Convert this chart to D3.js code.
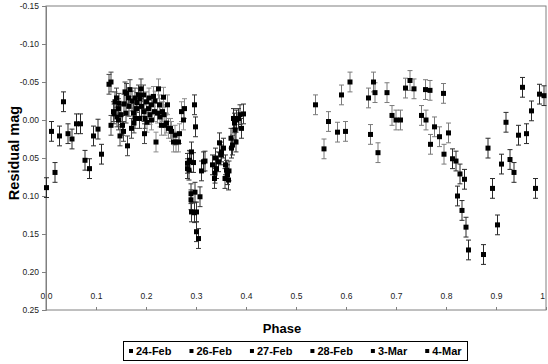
<!DOCTYPE html>
<html>
<head>
<meta charset="utf-8">
<script src="https://cdn.jsdelivr.net/npm/d3@7"></script>
<style>
  html, body { margin: 0; padding: 0; background: #fff; }
  svg { display: block; font-family: "Liberation Sans", Arial, sans-serif; }
</style>
</head>
<body>
<svg id="chart" width="548" height="364"></svg>
<script>
// Residual light-curve data, one pair of arrays per observing night
const seriesNames = ["24-Feb", "26-Feb", "27-Feb", "28-Feb", "3-Mar", "4-Mar"];

const feb24Phase = [0.001, 0.011, 0.018, 0.027, 0.035, 0.044, 0.052, 0.061, 0.069, 0.078, 0.087, 0.095, 0.104, 0.111];
const feb24Mag   = [0.089, 0.015, 0.069, 0.021, -0.024, 0.018, 0.025, 0.005, 0.005, 0.053, 0.064, 0.021, 0.012, 0.045];

const feb26Phase = [0.126, 0.130, 0.130, 0.135, 0.136, 0.138, 0.141, 0.142, 0.145, 0.145, 0.146, 0.148, 0.150, 0.153, 0.155, 0.156, 0.158, 0.160, 0.161, 0.163, 0.165, 0.166, 0.168, 0.171, 0.172, 0.175, 0.176, 0.178, 0.178, 0.181, 0.182, 0.185, 0.187, 0.188, 0.190, 0.191, 0.195, 0.196, 0.197, 0.198];
const feb26Mag   = [-0.047, -0.050, 0.007, -0.011, -0.008, -0.024, -0.029, -0.004, -0.015, 0.000, -0.022, 0.021, -0.007, 0.007, 0.015, -0.021, -0.037, -0.009, -0.035, 0.034, -0.029, -0.018, -0.040, 0.011, -0.025, -0.009, 0.004, -0.029, -0.002, -0.015, -0.023, -0.033, -0.002, -0.028, -0.041, -0.018, -0.033, -0.011, 0.018, -0.002];

const feb27Phase = [0.201, 0.202, 0.205, 0.206, 0.208, 0.211, 0.211, 0.215, 0.217, 0.218, 0.220, 0.223, 0.225, 0.227, 0.228, 0.231, 0.233, 0.235, 0.236, 0.238, 0.241, 0.243, 0.245, 0.249, 0.251, 0.255, 0.258, 0.260, 0.265, 0.267, 0.271, 0.275, 0.277];
const feb27Mag   = [-0.024, 0.003, -0.015, -0.029, -0.007, 0.000, -0.020, -0.031, -0.011, -0.025, 0.029, -0.009, -0.041, -0.020, -0.004, 0.007, -0.011, -0.030, -0.007, 0.007, 0.004, -0.020, 0.011, 0.011, 0.015, 0.029, 0.020, 0.029, 0.029, 0.018, -0.011, 0.000, -0.015];

const feb28Phase = [0.283, 0.283, 0.286, 0.287, 0.288, 0.290, 0.290, 0.291, 0.291, 0.295, 0.297, 0.297, 0.298, 0.299, 0.301, 0.301, 0.305, 0.308, 0.311, 0.315, 0.318, 0.333, 0.337, 0.338, 0.339, 0.341, 0.345, 0.347, 0.350, 0.351, 0.355, 0.358, 0.359, 0.361, 0.363, 0.365, 0.366, 0.370, 0.371, 0.373, 0.375, 0.377, 0.378, 0.380, 0.381, 0.385, 0.388, 0.391, 0.395];
const feb28Mag   = [0.057, 0.064, 0.066, 0.053, 0.055, 0.097, 0.105, 0.042, 0.121, 0.056, -0.020, 0.122, 0.095, 0.009, 0.121, 0.147, 0.156, 0.101, 0.067, 0.055, 0.054, 0.059, 0.077, 0.070, 0.050, 0.064, 0.055, 0.030, 0.046, 0.042, 0.037, 0.077, 0.059, 0.066, 0.072, 0.079, 0.067, 0.024, 0.037, 0.033, -0.002, 0.004, 0.013, 0.029, 0.000, -0.002, -0.007, 0.011, -0.008];

const mar3Phase = [0.539, 0.556, 0.565, 0.583, 0.591, 0.599, 0.608, 0.645, 0.649, 0.655, 0.658, 0.664, 0.682, 0.692, 0.700, 0.709, 0.719, 0.728, 0.736, 0.751, 0.759, 0.760, 0.768, 0.769, 0.777, 0.787, 0.795, 0.796, 0.805];
const mar3Mag   = [-0.020, 0.038, 0.002, 0.016, -0.033, 0.015, -0.050, -0.029, 0.019, -0.050, -0.036, 0.043, -0.036, -0.006, 0.000, 0.000, -0.042, -0.052, -0.041, -0.006, -0.040, 0.000, -0.039, 0.032, 0.009, 0.022, -0.035, 0.045, 0.017];

const mar4Phase = [0.813, 0.820, 0.823, 0.828, 0.832, 0.837, 0.840, 0.845, 0.875, 0.884, 0.893, 0.903, 0.911, 0.920, 0.928, 0.936, 0.945, 0.953, 0.961, 0.971, 0.979, 0.987, 0.996];
const mar4Mag   = [0.051, 0.054, 0.100, 0.071, 0.119, 0.078, 0.141, 0.171, 0.177, 0.037, 0.090, 0.138, 0.058, 0.003, 0.052, 0.069, 0.020, -0.043, 0.018, -0.012, 0.090, -0.034, -0.032];

// one-sigma uncertainty for each night
const nightErr = [0.013, 0.013, 0.013, 0.013, 0.013, 0.013];

const yTicks = [-0.15, -0.10, -0.05, 0.00, 0.05, 0.10, 0.15, 0.20, 0.25];
const yTickLabels = ["-0.15", "-0.10", "-0.05", "0.00", "0.05", "0.10", "0.15", "0.20", "0.25"];
const xTicks = [0, 0.1, 0.2, 0.3, 0.4, 0.5, 0.6, 0.7, 0.8, 0.9, 1];
const xTickLabels = ["0.0", "0.1", "0.2", "0.3", "0.4", "0.5", "0.6", "0.7", "0.8", "0.9", "1"];

const phases = [feb24Phase, feb26Phase, feb27Phase, feb28Phase, mar3Phase, mar4Phase];
const mags = [feb24Mag, feb26Mag, feb27Mag, feb28Mag, mar3Mag, mar4Mag];
const barColors = ["#2a2a2a", "#444444", "#8c8c8c", "#333333", "#7a7a7a", "#2a2a2a"];

const series = seriesNames.map((name, i) => ({
  name,
  err: nightErr[i],
  color: barColors[i],
  points: phases[i].map((p, j) => ({ phase: p, mag: mags[i][j] }))
}));

const svg = d3.select("#chart");
const plot = { left: 46, right: 546, top: 6, bottom: 310 };

const x = d3.scaleLinear().domain([0, 1]).range([plot.left, plot.right]);
// magnitude axis runs downward: brighter (negative) at the top
const y = d3.scaleLinear().domain([-0.15, 0.25]).range([plot.top, plot.bottom]);

// x axis: ticks point up into the plot, labels sit just above the bottom edge
const xAxis = svg.append("g")
  .attr("transform", `translate(0,${plot.bottom})`)
  .call(d3.axisTop(x).tickValues(xTicks).tickSize(3).tickPadding(8)
    .tickFormat((d, i) => xTickLabels[i]));
xAxis.select(".domain").remove();
xAxis.selectAll(".tick line").attr("stroke", "#808080");
xAxis.selectAll(".tick text").attr("font-size", 8.5).attr("fill", "#222")
  .attr("font-family", "Liberation Sans, Arial, sans-serif")
  .attr("dx", (d, i) => i === xTicks.length - 1 ? -4 : 0);

// plot frame
svg.append("rect")
  .attr("x", plot.left).attr("y", plot.top)
  .attr("width", plot.right - plot.left).attr("height", plot.bottom - plot.top)
  .attr("fill", "none").attr("stroke", "#808080").attr("stroke-width", 1);

const yAxis = svg.append("g")
  .attr("transform", `translate(${plot.left},0)`)
  .call(d3.axisLeft(y).tickValues(yTicks).tickSize(4).tickPadding(3)
    .tickFormat((d, i) => yTickLabels[i]));
yAxis.select(".domain").attr("stroke", "#808080");
yAxis.selectAll(".tick line").attr("stroke", "#808080");
yAxis.selectAll(".tick text").attr("font-size", 8.5).attr("fill", "#222")
  .attr("font-family", "Liberation Sans, Arial, sans-serif");

// error bars and markers
const marks = svg.append("g");
series.forEach(s => {
  const g = marks.append("g");
  const bars = g.selectAll("g.bar").data(s.points).join("g").attr("class", "bar");
  bars.append("line")
    .attr("x1", d => x(d.phase)).attr("x2", d => x(d.phase))
    .attr("y1", d => y(d.mag - s.err)).attr("y2", d => y(d.mag + s.err))
    .attr("stroke", s.color).attr("stroke-width", 1);
  [-1, 1].forEach(sign => {
    bars.append("line")
      .attr("x1", d => x(d.phase) - 2.5).attr("x2", d => x(d.phase) + 2.5)
      .attr("y1", d => y(d.mag + sign * s.err)).attr("y2", d => y(d.mag + sign * s.err))
      .attr("stroke", s.color).attr("stroke-width", 1);
  });
});
series.forEach(s => {
  marks.append("g").selectAll("rect").data(s.points).join("rect")
    .attr("x", d => x(d.phase) - 2.5).attr("y", d => y(d.mag) - 2.5)
    .attr("width", 5).attr("height", 5).attr("fill", "#000");
});

// axis titles
svg.append("text")
  .attr("transform", `translate(19,153) rotate(-90)`)
  .attr("text-anchor", "middle")
  .attr("font-size", 14.5).attr("font-weight", "bold").attr("fill", "#000")
  .text("Residual mag");

svg.append("text")
  .attr("x", 282).attr("y", 333)
  .attr("text-anchor", "middle")
  .attr("font-size", 13).attr("font-weight", "bold").attr("fill", "#000")
  .text("Phase");

// legend
const legend = svg.append("g");
legend.append("rect")
  .attr("x", 123.5).attr("y", 341.5).attr("width", 344).attr("height", 19)
  .attr("fill", "#fff").attr("stroke", "#000").attr("stroke-width", 1);
let lx = 129;
series.forEach(s => {
  legend.append("rect").attr("x", lx).attr("y", 349).attr("width", 4).attr("height", 4).attr("fill", "#000");
  const t = legend.append("text")
    .attr("x", lx + 7).attr("y", 355)
    .attr("font-size", 11).attr("font-weight", "bold").attr("fill", "#000")
    .text(s.name);
  lx += 7 + t.node().getComputedTextLength() + 18;
});
</script>
</body>
</html>
